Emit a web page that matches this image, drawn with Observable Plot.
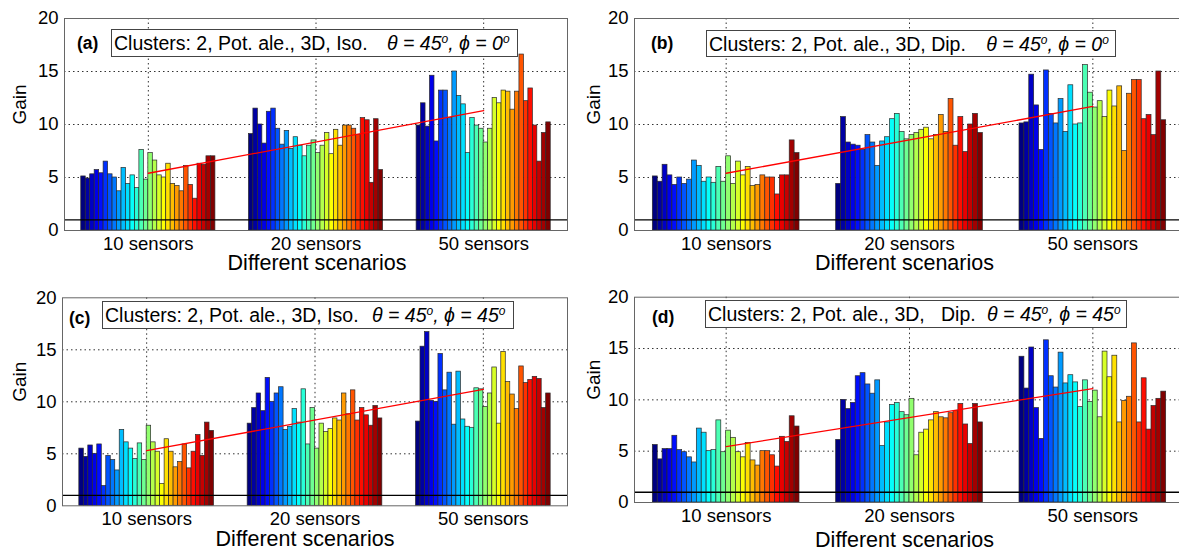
<!DOCTYPE html>
<html><head><meta charset="utf-8">
<script src="https://cdn.jsdelivr.net/npm/d3@7"></script>
<script src="https://cdn.jsdelivr.net/npm/@observablehq/plot@0.6"></script>
<style>
html,body{margin:0;padding:0;background:#fff;overflow:hidden;}
#fig{position:relative;width:1179px;height:551px;overflow:hidden;font-family:"Liberation Sans",Arial,sans-serif;}
.panel{position:absolute;}
.panel svg{max-width:none !important;}
.tb{position:absolute;box-sizing:border-box;border:1px solid #444;background:#fff;font-size:19.5px;line-height:26px;white-space:nowrap;padding-left:2px;color:#000;}
.tb .it{font-style:italic;}
.tb sup{font-size:12px;vertical-align:7px;line-height:0;}
.lab{position:absolute;font-weight:bold;font-size:17.5px;color:#000;line-height:20px;}
</style>
</head><body>
<div id="fig"></div>
<script>
// ---------------- data ----------------
const groups = ["10 sensors", "20 sensors", "50 sensors"];
const yTicks = [0, 5, 10, 15, 20];
const refLevel = 1;

const a10 = [5.1,4.9,5.3,5.7,5.4,6.5,5.3,5.0,3.7,5.9,4.4,5.2,4.0,7.6,4.8,7.3,6.6,5.2,5.0,6.3,4.4,4.2,3.7,6.1,4.3,3.0,6.3,6.2,7.0,7.0];
const a20 = [9.1,11.5,10.0,8.2,11.2,11.5,9.6,8.1,9.4,7.7,8.8,8.0,7.0,8.0,8.5,7.3,8.0,9.2,7.2,9.5,8.0,9.9,9.9,9.6,9.0,10.6,10.4,4.5,10.5,5.7];
const a50 = [9.9,12.0,9.8,14.6,8.4,13.2,13.2,10.6,15.0,12.7,11.9,7.3,10.6,9.9,9.6,8.3,9.6,12.5,12.0,13.2,13.1,11.4,13.1,16.6,12.2,13.4,9.9,6.5,9.2,10.2];
const trendA = [5.4, 11.3];

const b10 = [5.1,4.6,6.2,5.2,4.3,5.0,4.4,4.8,6.6,6.1,4.6,5.0,4.5,6.0,4.6,7.0,4.4,6.5,5.2,6.0,4.2,4.3,5.2,5.0,5.0,3.4,5.2,5.2,8.5,7.3];
const b20 = [4.4,10.7,8.3,8.1,8.0,7.6,9.0,8.3,6.1,8.4,8.8,10.5,11.0,9.3,8.6,9.0,9.2,9.5,9.7,8.6,9.0,10.9,9.3,12.4,8.0,10.7,7.4,10.0,11.0,9.2];
const b50 = [10.1,10.2,14.7,11.8,7.6,15.1,11.0,10.1,12.4,9.3,13.7,10.0,10.1,15.6,13.0,11.6,12.2,10.7,13.2,11.7,13.6,7.5,12.9,14.2,14.2,10.5,10.9,9.0,15.0,10.4];
const trendB = [5.4, 11.7];

const c10 = [5.5,4.7,5.8,5.0,5.9,1.9,4.8,4.4,3.4,7.3,6.1,5.5,4.5,6.0,4.4,7.7,6.1,5.2,2.1,6.4,5.2,3.7,4.2,5.9,3.6,5.2,6.8,4.8,8.0,7.2];
const c20 = [7.9,9.4,10.8,9.1,12.3,10.0,10.8,11.4,7.3,7.6,9.3,8.0,11.2,5.9,9.4,5.5,7.9,7.1,7.4,8.4,8.2,10.8,8.8,11.1,8.2,9.4,8.7,7.7,9.6,8.4];
const c50 = [8.1,15.3,16.7,10.1,10.0,14.6,11.1,12.8,7.8,12.9,8.3,7.6,7.5,11.3,11.2,9.5,10.8,13.3,7.9,14.8,11.9,10.7,9.3,13.4,11.8,12.1,12.4,12.2,9.4,10.8];
const trendC = [5.3, 11.2];

const d10 = [5.6,4.2,5.2,5.2,6.5,5.1,4.9,4.4,3.9,7.2,6.8,5.0,5.1,8.0,4.9,7.0,6.3,4.9,4.4,5.8,4.1,3.6,5.0,5.0,4.6,3.5,6.4,5.9,8.4,7.4];
const d20 = [6.1,10.0,9.1,9.7,12.3,12.6,11.5,10.6,11.9,5.5,7.8,9.5,9.7,8.8,8.5,10.1,4.6,6.8,7.1,8.0,8.8,8.3,8.2,8.7,8.9,9.6,7.6,5.7,9.6,7.8];
const d50 = [14.2,11.1,15.1,9.2,6.2,15.8,12.3,11.2,14.6,11.6,12.4,11.7,9.3,11.9,9.8,10.9,8.3,14.7,12.2,14.3,7.8,9.9,10.3,15.5,7.8,12.1,7.1,9.4,10.1,10.8];
const trendD = [5.45, 11.1];

// ---------------- helpers ----------------
function jet(t){
  const c = x => Math.max(0, Math.min(1, x));
  const r = c(1.5 - Math.abs(4*t - 3)), g = c(1.5 - Math.abs(4*t - 2)), b = c(1.5 - Math.abs(4*t - 1));
  return `rgb(${Math.round(r*255)},${Math.round(g*255)},${Math.round(b*255)})`;
}
function barsFor(series){
  const out = [];
  const gw = 0.8;
  series.forEach((arr, g) => {
    const bw = gw / arr.length;
    arr.forEach((v, k) => out.push({
      x1: g + 1 - gw/2 + k*bw,
      x2: g + 1 - gw/2 + (k+1)*bw,
      v, c: jet(k/(arr.length-1))
    }));
  });
  return out;
}

const panels = [
  {left:0,   top:0,   w:600, h:275, ml:64, mr:33, mt:18,   mb:45,   series:[a10,a20,a50], trend:trendA, gainDx:-45, xlabDx:1,   xlabDy:33},
  {left:570, top:0,   w:620, h:275, ml:64, mr:6,  mt:18,   mb:45,   series:[b10,b20,b50], trend:trendB, gainDx:-41, xlabDx:-5,  xlabDy:33},
  {left:0,   top:280, w:600, h:271, ml:62, mr:33, mt:17.3, mb:45.7, series:[c10,c20,c50], trend:trendC, gainDx:-43, xlabDx:-10, xlabDy:33},
  {left:570, top:280, w:620, h:271, ml:64, mr:6,  mt:16.7, mb:49,   series:[d10,d20,d50], trend:trendD, gainDx:-41, xlabDx:-5,  xlabDy:38}
];

const fig = document.getElementById("fig");
const dash = {stroke:"#333", strokeOpacity:1, strokeWidth:1, strokeDasharray:"1.5,3"};

for (const p of panels){
  const chart = Plot.plot({
    width: p.w, height: p.h,
    marginLeft: p.ml, marginRight: p.mr, marginTop: p.mt, marginBottom: p.mb,
    style: {fontFamily:"Liberation Sans, Arial, sans-serif", fontSize:"18.5px", color:"#000", background:"transparent", overflow:"visible", maxWidth:"none"},
    x: {type:"linear", domain:[0.5, 3.5]},
    y: {domain:[0, 20]},
    marks: [
      Plot.gridY({ticks:[5,10,15], ...dash}),
      Plot.gridX({ticks:[1,2,3], ...dash}),
      Plot.rect(barsFor(p.series), {x1:"x1", x2:"x2", y1:0, y2:"v", fill:"c", stroke:"#2a2a2a", strokeWidth:0.7}),
      Plot.ruleY([refLevel], {stroke:"#000", strokeWidth:1.3}),
      Plot.line([{x:1, y:p.trend[0]}, {x:3, y:p.trend[1]}], {x:"x", y:"y", stroke:"#ff0000", strokeWidth:1.3}),
      Plot.frame({stroke:"#666", strokeWidth:1}),
      Plot.axisX({ticks:[1,2,3], tickFormat:i => groups[i-1], tickSize:0, tickPadding:6, fontSize:18.5, label:null}),
      Plot.axisY({ticks:yTicks, tickSize:0, tickPadding:6, fontSize:18.5, label:null}),
      Plot.text(["Gain"], {frameAnchor:"left", dx:p.gainDx, rotate:-90, fontSize:19, lineAnchor:"middle"}),
      Plot.text(["Different scenarios"], {frameAnchor:"bottom", dx:p.xlabDx, dy:p.xlabDy, fontSize:21.5, lineAnchor:"middle"})
    ]
  });
  const div = document.createElement("div");
  div.className = "panel";
  div.style.left = p.left + "px";
  div.style.top = p.top + "px";
  div.style.width = p.w + "px";
  div.appendChild(chart);
  fig.appendChild(div);
}

// titles and panel letters
const titles = [
  {l:111, t:29,  w:407, h:28, gap:14, html:['Clusters: 2, Pot. ale., 3D, Iso.', 'θ = 45<sup>o</sup>, ϕ = 0<sup>o</sup>']},
  {l:706, t:30,  w:410, h:27, gap:15, html:['Clusters: 2, Pot. ale., 3D, Dip.', 'θ = 45<sup>o</sup>, ϕ = 0<sup>o</sup>']},
  {l:102, t:301, w:412, h:28, gap:8,  html:['Clusters: 2, Pot. ale., 3D, Iso.', 'θ = 45<sup>o</sup>, ϕ = 45<sup>o</sup>']},
  {l:705, t:300, w:422, h:28, gap:6,  html:['Clusters: 2, Pot. ale., 3D,&nbsp;&nbsp; Dip.', 'θ = 45<sup>o</sup>, ϕ = 45<sup>o</sup>']}
];
for (const t of titles){
  const d = document.createElement("div");
  d.className = "tb";
  Object.assign(d.style, {left:t.l+"px", top:t.t+"px", width:t.w+"px", height:t.h+"px"});
  d.innerHTML = t.html[0] + ' <span class="it" style="margin-left:' + t.gap + 'px">' + t.html[1] + '</span>';
  fig.appendChild(d);
}
const letters = [["(a)",77,33],["(b)",651,33],["(c)",69,308],["(d)",652,307]];
for (const [s,x,y] of letters){
  const d = document.createElement("div");
  d.className = "lab";
  d.style.left = x + "px"; d.style.top = y + "px";
  d.textContent = s;
  fig.appendChild(d);
}
</script>
</body></html>
